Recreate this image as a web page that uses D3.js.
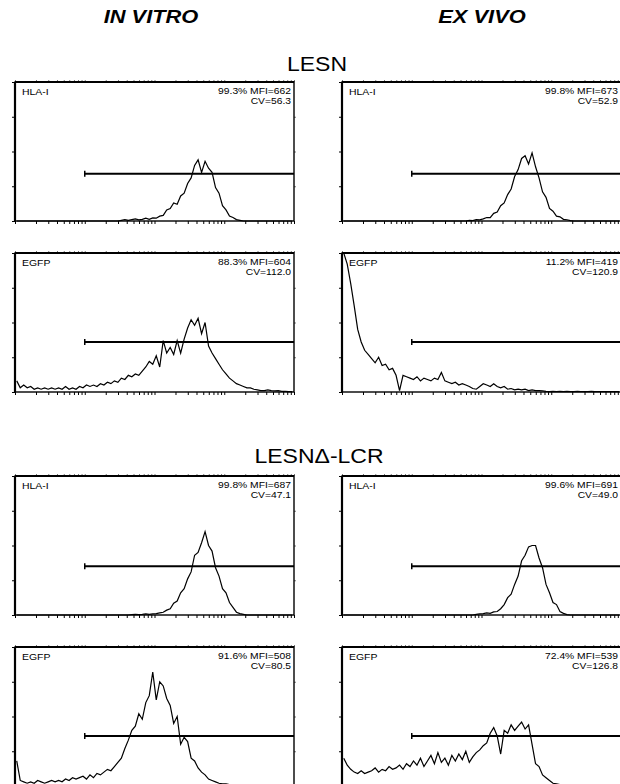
<!DOCTYPE html>
<html>
<head>
<meta charset="utf-8">
<script src="https://cdn.jsdelivr.net/npm/d3@7"></script>
<style>
  html, body { margin: 0; padding: 0; background: #fff; }
  svg { display: block; }
  text { font-family: "Liberation Sans", Arial, sans-serif; fill: #000; }
</style>
</head>
<body>
<svg id="chart" width="620" height="784"></svg>
<script>
// ---------------- DATA ----------------
const conditions = ["IN VITRO", "EX VIVO"];
const constructs = ["LESN", "LESN\u0394-LCR"];
const markers = ["HLA-I", "EGFP"];

// stats per panel; order: LESN HLA (vitro, vivo), LESN EGFP, LCR HLA, LCR EGFP
const statPercent = ["99.3%", "99.8%", "88.3%", "11.2%", "99.8%", "99.6%", "91.6%", "72.4%"];
const statMFI     = ["662", "673", "604", "419", "687", "691", "508", "539"];
const statCV      = ["56.3", "52.9", "112.0", "120.9", "47.1", "49.0", "80.5", "126.8"];

// gate marker level (% of full scale) and start (fluorescence)
const gateLevel = [34, 34, 36, 36, 35, 35, 36, 36];
const gateStart = [10, 10, 10, 10, 10, 10, 10, 10];

// histogram counts (% of full scale), 80 log bins over 10^0..10^4
const hlaVitroLESN = [0,0,0,0,0,0,0,0,0,0, 0,0,0,0,0,0,0,0,0,0, 0,0,0,0,0,0,0,0,0,0,
  0.5,1,0.5,1,1.5,0.8,1.2,2,1.2,2.2, 2,3.5,4,8,9,13,12,18,20,27, 31,40,44,35,43,38,35,24,20,11,
  8,3.5,2.5,1,0.5,0,0,0,0,0, 0,0,0,0,0,0,0,0,0,0];
const hlaVivoLESN = [0,0,0,0,0,0,0,0,0,0, 0,0,0,0,0,0,0,0,0,0, 0,0,0,0,0,0,0,0,0,0,
  0,0,0,0,0,0,0.5,0.3,1,0.8, 1.5,2.5,2.5,5.5,6.5,11,13,19,23,32, 37,45,47,41,49,39,31,21,17,9,
  7,3.5,3,1.2,0.9,0.3,0,0,0,0, 0,0,0,0,0,0,0,0,0,0];
const egfpVitroLESN = [8,3,5,3,4,2,3,2,3,2, 3,2,3,2,4,2,3,2,4,3, 5,4,5,4,6,5,7,6,8,7,
  10,9,12,11,13,12,15,18,22,20, 26,18,37,28,32,27,37,28,38,46, 52,48,53,42,50,33,28,24,20,16,
  13,10,8,6,5,4,3,3,2,1.5, 1,1,1.5,1,0.8,1,0.5,0.5,0.3,0.2];
const egfpVivoLESN = [100,92,78,62,45,36,30,27,24,21, 25,19,20,16,17,12,1,12,11,10, 9,11,8,10,9,8,10,9,14,8,
  7,6,7,5,6,5,4,2.5,2,4, 6,5,4,6,4,3,4,2,2.5,1.5, 2,1.5,2,1,1.5,1,1,0.8,0.5,0.3,
  0.5,0.3,0.5,0.3,0.5,0.3,0.3,0.5,0.3,0.3, 0.3,0.5,0.3,0.3,0.3,0.3,0.3,0.3,0.3,0.3];
const hlaVitroLCR = [0,0,0,0,0,0,0,0,0,0, 0,0,0,0,0,0,0,0,0,0, 0,0,0,0,0,0,0,0,0,0,
  0,0,0,0.3,0.5,0.3,0.5,0.8,0.5,0.8, 1,1.5,2,3.5,4.5,8.5,10,16,19,26, 31,43,45,52,60,50,46,34,28,19,
  16,9,5.5,2,1,0.5,0,0,0,0, 0,0,0,0,0,0,0,0,0,0];
const hlaVivoLCR = [0,0,0,0,0,0,0,0,0,0, 0,0,0,0,0,0,0,0,0,0, 0,0,0,0,0,0,0,0,0,0,
  0,0,0,0,0,0,0,0,0.5,0.8, 1,1.5,1.2,2.2,2.5,4.5,7.5,12.5,15,22, 28,39,43,49,50,50,41,34,22,16,
  9,7.5,2.5,1.2,0.3,0,0,0,0,0, 0,0,0,0,0,0,0,0,0,0];
const egfpVitroLCR = [18,4,3,2,3,2,4,3,2,3, 4,3,4,3,5,4,6,5,6,7, 5,8,6,9,8,10,12,11,14,17,
  20,27,33,40,43,52,48,60,65,82, 62,75,72,63,58,45,50,30,35,32, 20,18,13,10,8,5,4,3,2,1.5,
  1.5,1,1,0.5,0.5,0.5,0.5,0.3,0.5,0.3, 0.3,0.3,0.5,0.3,0.3,0.3,0.3,0.3,0.3,0.3];
const egfpVivoLCR = [20,15,12,10,9,11,9,10,11,13, 10,12,11,14,12,13,15,12,16,14, 18,15,20,14,18,22,16,24,17,20,
  15,22,18,23,19,25,17,21,24,26, 29,31,38,42,36,23,40,38,44,40, 43,46,41,44,30,16,14,8,6,4,
  2,1.5,1,0.5,0.5,0.3,0.5,0.3,0.3,0.3, 0.3,0.3,0.3,0.3,0.3,0.3,0.3,0.3,0.3,0.3];

const histograms = [hlaVitroLESN, hlaVivoLESN, egfpVitroLESN, egfpVivoLESN,
                    hlaVitroLCR, hlaVivoLCR, egfpVitroLCR, egfpVivoLCR];
const panelMarker = [0, 0, 1, 1, 0, 0, 1, 1];

// ---------------- LAYOUT ----------------
const svg = d3.select("#chart");
const colX = [15, 342];
const rowY = [82, 253, 476, 647];
const W = 279, H = 139;
const nBins = 80;
const decades = 4;

function stretchedText(g, x, y, str, size, anchor, weight, style, sx) {
  return g.append("text")
    .attr("transform", `translate(${x},${y}) scale(${sx},1)`)
    .attr("text-anchor", anchor)
    .attr("font-size", size)
    .attr("font-weight", weight)
    .attr("font-style", style)
    .text(str);
}

// headers
stretchedText(svg, 151, 23, conditions[0], 19, "middle", "bold", "italic", 1.15);
stretchedText(svg, 482, 23, conditions[1], 19, "middle", "bold", "italic", 1.15);
stretchedText(svg, 317, 71, constructs[0], 20, "middle", "normal", "normal", 1.15);
stretchedText(svg, 319, 463, constructs[1], 20, "middle", "normal", "normal", 1.15);

const x = d3.scaleLog().domain([1, Math.pow(10, decades)]).range([0, W]);
const y = d3.scaleLinear().domain([0, 100]).range([H, 0]);

// bin centres (log-spaced channels)
const centres = d3.range(nBins).map(i => Math.pow(10, (i + 0.5) * decades / nBins));
const minorTicks = [];
for (let k = 0; k < decades; k++) for (let m = 1; m <= 9; m++) minorTicks.push(m * Math.pow(10, k));
minorTicks.push(Math.pow(10, decades));

const line = d3.line().x(d => x(d[0])).y(d => y(Math.min(d[1], 100)));

histograms.forEach((hist, p) => {
  const row = Math.floor(p / 2), col = p % 2;
  const g = svg.append("g").attr("transform", `translate(${colX[col]},${rowY[row]})`);

  // axes ticks
  const ab = g.append("g").attr("transform", `translate(0,${H})`)
    .call(d3.axisBottom(x).tickValues(minorTicks).tickSize(3).tickFormat(""));
  const at = g.append("g")
    .call(d3.axisTop(x).tickValues(minorTicks).tickSize(2).tickFormat(""));
  const al = g.append("g")
    .call(d3.axisLeft(y).tickValues([0, 25, 50, 75, 100]).tickSize(3).tickFormat(""));
  const ar = g.append("g").attr("transform", `translate(${W},0)`)
    .call(d3.axisRight(y).tickValues([25, 50, 75]).tickSize(2).tickFormat(""));
  [ab, at, al, ar].forEach(a => {
    a.select(".domain").remove();
    a.selectAll("line").attr("stroke", "#000").attr("stroke-width", 1);
  });
  at.selectAll("line").attr("stroke", "#777");
  ar.selectAll("line").attr("stroke", "#777");

  // histogram
  const pts = hist.map((v, i) => [centres[i], v]);
  g.append("path")
    .attr("d", line(pts))
    .attr("fill", "none")
    .attr("stroke", "#000")
    .attr("stroke-width", 1.2)
    .attr("stroke-linejoin", "miter");

  // gate marker
  const gy = y(gateLevel[p]);
  g.append("line")
    .attr("x1", x(gateStart[p])).attr("x2", x(Math.pow(10, decades)))
    .attr("y1", gy).attr("y2", gy)
    .attr("stroke", "#000").attr("stroke-width", 2);
  g.append("line")
    .attr("x1", x(gateStart[p])).attr("x2", x(gateStart[p]))
    .attr("y1", gy - 3).attr("y2", gy + 3)
    .attr("stroke", "#000").attr("stroke-width", 1.5);

  // frame
  g.append("rect").attr("x", 0).attr("y", 0).attr("width", W).attr("height", H)
    .attr("fill", "none").attr("stroke", "#000").attr("stroke-width", 1.4);
  g.append("line").attr("x1", 0).attr("x2", W).attr("y1", 0).attr("y2", 0)
    .attr("stroke", "#000").attr("stroke-width", 2.2);
  g.append("line").attr("x1", 0).attr("x2", 0).attr("y1", 0).attr("y2", H)
    .attr("stroke", "#000").attr("stroke-width", 2.2);

  // labels
  stretchedText(g, 7, 12.5, markers[panelMarker[p]], 9.5, "start", "normal", "normal", 1.1);
  stretchedText(g, W - 3, 12, `${statPercent[p]} MFI=${statMFI[p]}`, 9.2, "end", "normal", "normal", 1.12);
  stretchedText(g, W - 3, 22.4, `CV=${statCV[p]}`, 9.2, "end", "normal", "normal", 1.12);
});
</script>
</body>
</html>
